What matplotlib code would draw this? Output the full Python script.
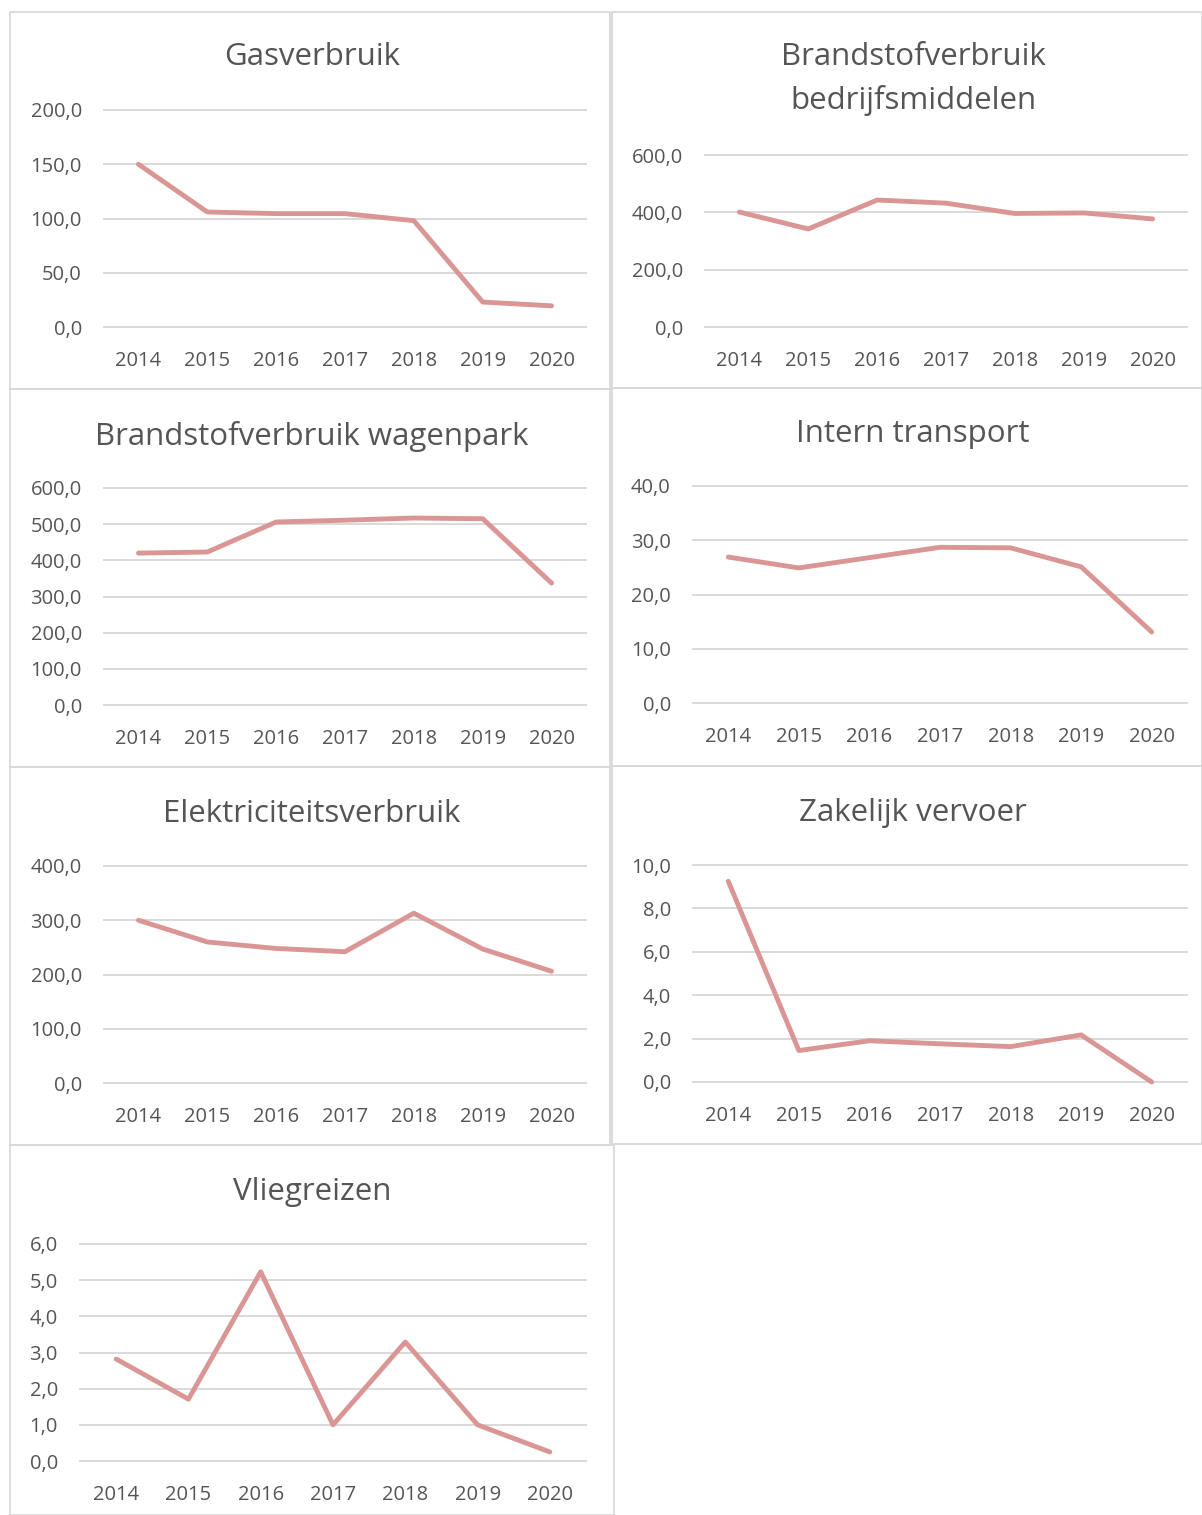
import matplotlib.pyplot as plt
from matplotlib.patches import Rectangle
from matplotlib.ticker import FuncFormatter

years = ['2014', '2015', '2016', '2017', '2018', '2019', '2020']

gas = [150.0, 106.0, 104.5, 104.5, 98.0, 23.0, 19.5]
brandstof_bedrijf = [401.0, 342.0, 443.0, 432.0, 396.0, 398.0, 377.0]
brandstof_wagen = [420.0, 423.0, 506.0, 511.0, 517.0, 515.0, 337.0]
intern = [26.9, 24.9, 26.8, 28.7, 28.6, 25.1, 13.1]
elektra = [300.0, 260.0, 248.0, 242.0, 313.0, 247.0, 206.0]
zakelijk = [9.25, 1.45, 1.9, 1.76, 1.63, 2.17, 0.0]
vlieg = [2.82, 1.71, 5.23, 1.0, 3.29, 1.0, 0.25]

titles = ['Gasverbruik', 'Brandstofverbruik\nbedrijfsmiddelen',
          'Brandstofverbruik wagenpark', 'Intern transport',
          'Elektriciteitsverbruik', 'Zakelijk vervoer', 'Vliegreizen']
series = [gas, brandstof_bedrijf, brandstof_wagen, intern, elektra, zakelijk, vlieg]
ymax = [200, 600, 600, 40, 400, 10, 6]
ystep = [50, 200, 100, 10, 100, 2, 1]

W, H = 1202, 1515
LINE = '#d99694'
GRID = '#d9d9d9'
TXT = '#555555'

plt.rcParams['font.family'] = ['Open Sans', 'DejaVu Sans']

fig = plt.figure(figsize=(W / 100, H / 100), dpi=100)

# panel frames: (x0, y0, x1, y1) in pixels
panels = [(10, 12, 610, 389), (612, 12, 1202, 388),
          (10, 389, 610, 767), (612, 388, 1202, 766),
          (10, 767, 610, 1145), (612, 766, 1202, 1144),
          (10, 1145, 614, 1515)]
# plot areas
areas = [(104, 110, 586, 327), (705, 155, 1187, 327),
         (104, 488, 586, 705), (693, 486, 1187, 703),
         (104, 866, 586, 1083), (693, 865, 1187, 1082),
         (80, 1244, 586, 1461)]
title_y = [57, 79, 436, 434, 814, 813, 1192]
title_x = [312, 913, 312, 913, 312, 913, 312]

for (x0, y0, x1, y1) in panels:
    fig.patches.append(Rectangle((x0 / W, 1 - y1 / H), (x1 - x0) / W, (y1 - y0) / H,
                                 transform=fig.transFigure, fill=False,
                                 edgecolor=GRID, linewidth=1.3))

comma = FuncFormatter(lambda v, p: f'{v:.1f}'.replace('.', ','))

for i in range(7):
    x0, y0, x1, y1 = areas[i]
    ax = fig.add_axes([x0 / W, 1 - y1 / H, (x1 - x0) / W, (y1 - y0) / H])
    ax.set_facecolor('none')
    ax.set_xlim(-0.5, 6.5)
    ax.set_ylim(0, ymax[i])
    ax.set_yticks([ystep[i] * k for k in range(int(ymax[i] / ystep[i]) + 1)])
    ax.yaxis.set_major_formatter(comma)
    ax.set_xticks(range(7))
    ax.set_xticklabels(years)
    for s in ax.spines.values():
        s.set_visible(False)
    ax.tick_params(length=0, labelsize=14.5, colors=TXT)
    ax.tick_params(axis='y', pad=16)
    ax.tick_params(axis='x', pad=17)
    ax.grid(axis='y', color=GRID, linewidth=1.4)
    for gl in ax.get_ygridlines():
        gl.set_clip_on(False)
    ln, = ax.plot(range(7), series[i], color=LINE, linewidth=3.5,
                  solid_joinstyle='round', solid_capstyle='round')
    ln.set_clip_on(False)
    ax.set_axisbelow(True)

    fig.text(title_x[i] / W, 1 - title_y[i] / H, titles[i], ha='center', va='center',
             fontsize=22.5, color=TXT, linespacing=1.55)

fig.savefig('out.png', dpi=100, facecolor='white')
